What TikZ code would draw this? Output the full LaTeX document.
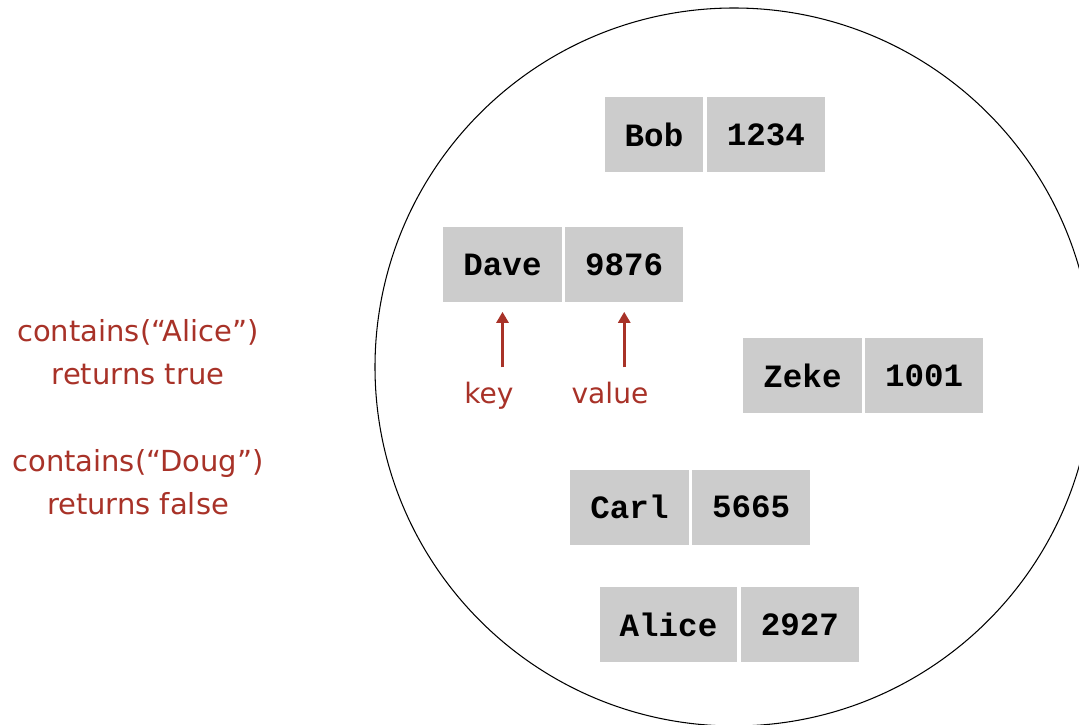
\documentclass[tikz,border=0pt]{standalone}
\usepackage{xcolor}
\usepackage{tikz}
\usepackage{fontspec}
\usetikzlibrary{arrows.meta}
\usetikzlibrary{positioning}

\newfontfamily\notefont{DejaVu Sans}
\newfontfamily\codefont{Liberation Mono}
\definecolor{notered}{RGB}{168,50,40}
\definecolor{cellgray}{RGB}{204,204,204}

\begin{document}
\begin{tikzpicture}[
    cell/.style={fill=cellgray, minimum height=1.5cm, inner xsep=0.4cm, font=\codefont\bfseries\fontsize{18.5}{20}\selectfont},
    note/.style={text=notered, font=\notefont\fontsize{16.5}{24.5}\selectfont, align=center},
    tag/.style={text=notered, font=\notefont\fontsize{16}{18}\selectfont, anchor=base, inner sep=0pt},
    pointer/.style={-{Triangle[length=0.22cm,width=0.24cm]}, color=notered, line width=0.055cm}
    ]
        % Symbol table drawn as a bag of key-value pairs
        \useasboundingbox (0,0) rectangle (21.58,14.48);
        \clip (0,0) rectangle (21.58,14.48);
        \draw[line width=0.6pt] (14.68,7.14) circle (7.18);

        \node[cell] (bobkey) at (13.08,11.79) {Bob};
        \node[cell, right=0.06cm of bobkey] (bobval) {1234};
        \node[cell] (davekey) at (10.05,9.18) {Dave};
        \node[cell, right=0.06cm of davekey] (daveval) {9876};
        \node[cell] (zekekey) at (16.05,6.97) {Zeke};
        \node[cell, right=0.06cm of zekekey] (zekeval) {1001};
        \node[cell] (carlkey) at (12.59,4.34) {Carl};
        \node[cell, right=0.06cm of carlkey] (carlval) {5665};
        \node[cell] (alicekey) at (13.37,1.99) {Alice};
        \node[cell, right=0.06cm of alicekey] (aliceval) {2927};

        \node[note] (hit) at (2.76,7.44) {contains(“Alice”)\\returns true};
        \node[note] (miss) at (2.76,4.84) {contains(“Doug”)\\returns false};

        \node[tag] (keylbl) at (9.78,6.42) {key};
        \node[tag] (vallbl) at (12.2,6.42) {value};

        \draw[pointer, shorten <=0.28cm, shorten >=0.18cm] (keylbl.north -| davekey.south) -- (davekey.south);
        \draw[pointer, shorten <=0.28cm, shorten >=0.18cm] (vallbl.north -| daveval.south) -- (daveval.south);
\end{tikzpicture}
\end{document}
